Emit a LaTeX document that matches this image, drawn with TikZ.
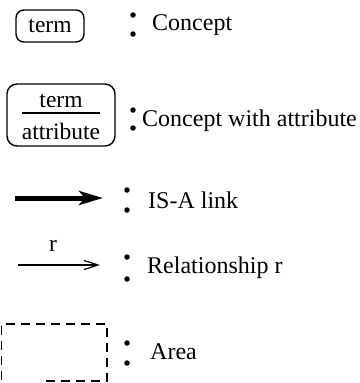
\documentclass[tikz,border=0pt]{standalone}
\usepackage{fontspec}
\setmainfont{Liberation Serif}
\usetikzlibrary{arrows.meta}
\begin{document}
\begin{tikzpicture}[x=1pt,y=-1pt,
  lbl/.style={font=\fontsize{24}{28}\selectfont, inner sep=0pt, anchor=west},
  boxtxt/.style={font=\fontsize{23.5}{27}\selectfont, inner sep=0pt},
  concept/.style={draw, line width=1.4pt, rounded corners=8pt, inner sep=0pt},
  dotmark/.style={circle, fill, inner sep=0pt, minimum size=5.5pt},
  area/.style={line width=1.4pt, dash pattern=on 9pt off 6pt}]
\useasboundingbox (0,0) rectangle (359,383);

% plain concept
\node[concept, minimum width=68pt, minimum height=32pt] (c1) at (50,26) {};
\node[boxtxt] (c1t) at (c1.center) {term};
\node[dotmark] (d1a) at (133,15) {};
\node[dotmark] (d1b) at (133,34) {};
\node[lbl] (l1) at (152,25) {Concept};

% concept with attribute
\node[concept, rounded corners=10pt, minimum width=108pt, minimum height=62pt] (c2) at (61,115) {};
\node[boxtxt] (c2t) at (61,101) {term};
\node[boxtxt] (c2a) at (61,131) {attribute};
\coordinate (sepL) at (22,113);
\coordinate (sepR) at (100,113);
\draw[line width=1.4pt] (sepL) -- (sepR);
\node[dotmark] (d2a) at (133,110) {};
\node[dotmark] (d2b) at (133,128) {};
\node[lbl] (l2) at (142,121) {Concept with attribute};

% IS-A link
\coordinate (isaS) at (15,198);
\coordinate (isaE) at (103,198);
\draw[line width=5pt, -{Stealth[length=24pt, width=14pt, inset=6pt]}] (isaS) -- (isaE);
\node[dotmark] (d3a) at (127,190) {};
\node[dotmark] (d3b) at (127,210) {};
\node[lbl] (l3) at (148,200) {IS-A link};

% relationship
\coordinate (relS) at (18,265);
\coordinate (relE) at (100,265);
\draw[line width=1.2pt, -{Straight Barb[length=14pt, width=9pt, line width=1.2pt]}] (relS) -- (relE);
\node[boxtxt] (rl) at (53,246) {r};
\node[dotmark] (d4a) at (127,257) {};
\node[dotmark] (d4b) at (127,279) {};
\node[lbl] (l4) at (147,268) {Relationship r};

% area
\coordinate (a1) at (46,381);
\coordinate (a2) at (107,381);
\coordinate (a3) at (107,324);
\coordinate (a4) at (1.5,324);
\coordinate (a5) at (1.5,383);
\draw[area] (a1) -- (a2) -- (a3) -- (a4) -- (a5);
\node[dotmark] (d5a) at (127,343) {};
\node[dotmark] (d5b) at (127,363) {};
\node[lbl] (l5) at (150,352) {Area};
\end{tikzpicture}
\end{document}
